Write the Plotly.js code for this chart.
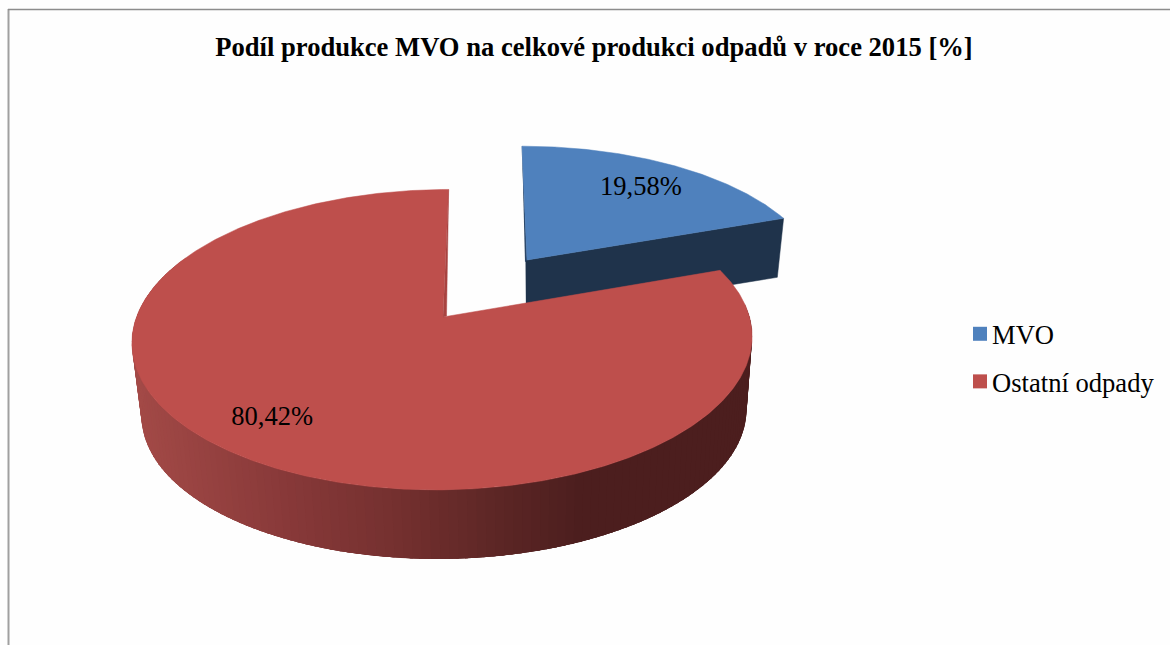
<!DOCTYPE html>
<html><head><meta charset="utf-8">
<script src="https://cdn.plot.ly/plotly-3.0.1.min.js"></script>
<style>html,body{margin:0;padding:0;background:#fff}#c{width:1170px;height:645px}</style>
</head><body><div id="c"></div>
<script>
const categories = ['MVO', 'Ostatní odpady'];
const shares = [19.58, 80.42];
const chartTitle = 'Podíl produkce MVO na celkové produkci odpadů v roce 2015 [%]';

const FONT = '"Liberation Serif","Times New Roman",serif';
const BLUE = '#4f81bd', RED = '#be4f4c';
const BLUE_WALL = '#1f334b', BLUE_EDGE = '#2a4566', RED_EDGE = '#a84340';

// Perspective view of the two exploded slices
const K = 0.151;
const viewBlue = {top:{cx:527,cy:260,R:288,S:131,a:-5.75}, low:{cx:527,cy:318,R:281,S:128,a:-5.75}};
const viewRed  = {top:{cx:443,cy:317,R:306.5,S:146.8,a:6.5}, low:{cx:445,cy:390.6,R:299,S:143,a:6.5}};

function proj(p, deg, frac) {
  const t = deg * Math.PI / 180, u = Math.sin(t) * frac, v = Math.cos(t) * frac;
  const w = 1 + K * v;
  return [p.cx + (p.R * u + p.a * v) / w, p.cy - p.S * v / w];
}
function poly(pts, color, lineWidth) {
  return {type:'scatter', mode:'lines', x:pts.map(p=>p[0]), y:pts.map(p=>p[1]), fill:'toself',
    fillcolor:color, line:{color:color, width:lineWidth}, hoverinfo:'skip', showlegend:false};
}
function sector(p, a0, a1) {
  const pts = [proj(p, a0, 0)];
  for (let a = a0; a < a1; a += 0.5) pts.push(proj(p, a, 1));
  pts.push(proj(p, a1, 1));
  pts.push(proj(p, a0, 0));
  return pts;
}
// shading of the outer wall, left to right
const wallStops = [[130,[165,75,72]],[300,[134,56,56]],[400,[116,48,47]],[500,[92,38,37]],[580,[76,30,30]]];
function wallColor(x) {
  const s = wallStops;
  if (x <= s[0][0]) return 'rgb(' + s[0][1] + ')';
  for (let i = 1; i < s.length; i++) if (x <= s[i][0]) {
    const f = (x - s[i-1][0]) / (s[i][0] - s[i-1][0]);
    return 'rgb(' + s[i][1].map((c,j)=>Math.round(s[i-1][1][j] + (c - s[i-1][1][j]) * f)) + ')';
  }
  return 'rgb(' + s[s.length-1][1] + ')';
}

const blueSweep = shares[0] / (shares[0] + shares[1]) * 360;
const traces = [];

// blue slice
{
  const t = viewBlue.top, l = viewBlue.low;
  const a = proj(t, 0, 0), e = proj(t, blueSweep, 1), le = proj(l, blueSweep, 1), la = proj(l, 0, 0);
  traces.push(poly([[a[0]-1.5,a[1]], a, e, le, la, [la[0]-1,la[1]]], BLUE_WALL, 0.5));
  traces.push(poly([proj(t,0,1), a, [a[0]-2,a[1]+2]], BLUE_EDGE, 0.5));
  traces.push(poly(sector(t, 0, blueSweep), BLUE, 0.5));
}
// red slice: outer wall bands (each overlapped by the next), then face
{
  const t = viewRed.top, l = viewRed.low;
  const step = 1.5, span = 5;
  for (let a = 85; a < 292; a += step) {
    const p0 = proj(t,a,1), p1 = proj(t,a+span,1), p2 = proj(l,a+span,1), p3 = proj(l,a,1);
    traces.push(poly([p0,p1,p2,p3], wallColor((proj(l,a,1)[0]+proj(l,a+step,1)[0])/2), 0));
  }
  const a = proj(t,0,0);
  traces.push(poly(sector(t, blueSweep, 360), RED, 0.5));
  traces.push(poly([proj(t,0,1), [a[0]+3.5,a[1]-1], a], RED_EDGE, 0.5));
}
// value labels
const labelPlace = [{view:viewBlue.top, extra:0, frac:0.78, dx:-1, dy:5}, {view:viewRed.top, extra:4.8, frac:0.77, dx:0, dy:6}];
const starts = [0, blueSweep], sweeps = [blueSweep, 360-blueSweep];
const lx = [], ly = [];
labelPlace.forEach((q,i)=>{
  const p = proj(q.view, starts[i] + sweeps[i]/2 + q.extra, q.frac);
  lx.push(p[0]+q.dx); ly.push(p[1]+q.dy);
});
traces.push({type:'scatter', mode:'text', x:lx, y:ly,
  text:shares.map(v=>v.toFixed(2).replace('.',',')+'%'),
  textposition:'middle center', textfont:{family:FONT,size:26.5,color:'#000'}, hoverinfo:'skip', showlegend:false});
// legend entries
categories.forEach((c,i)=>traces.push({type:'scatter', mode:'markers', x:[null], y:[null], name:c, legendgroup:c,
  marker:{symbol:'square', size:14, color:[BLUE,RED][i]}, showlegend:true}));

const layout = {
  width:1170, height:645, margin:{l:0,r:0,t:0,b:0},
  paper_bgcolor:'#fefefe', plot_bgcolor:'#fefefe',
  title:{text:'<b>'+chartTitle+'</b>', font:{family:FONT,size:26.6,color:'#000'}, x:594/1170, xanchor:'center', y:1-46.5/645, yanchor:'middle'},
  xaxis:{range:[0,1170], visible:false, fixedrange:true},
  yaxis:{range:[645,0], visible:false, fixedrange:true},
  legend:{x:952/1170, xanchor:'left', y:1-358/645, yanchor:'middle', bgcolor:'rgba(0,0,0,0)',
    font:{family:FONT,size:26.6,color:'#000'}, itemwidth:30, tracegroupgap:10},
  shapes:[
    {type:'line', xref:'x', yref:'y', x0:8.5, x1:8.5, y0:9, y1:645, line:{color:'#a0a0a0', width:2}},
    {type:'line', xref:'x', yref:'y', x0:8, x1:1170, y0:9.5, y1:9.5, line:{color:'#8c8c8c', width:1.5}}
  ],
  showlegend:true
};
Plotly.newPlot('c', traces, layout, {displayModeBar:false, staticPlot:true}).then(()=>{
  document.querySelectorAll('.legend .legendsymbols').forEach(el=>el.setAttribute('transform','translate(8,0)'));
});
</script></body></html>
